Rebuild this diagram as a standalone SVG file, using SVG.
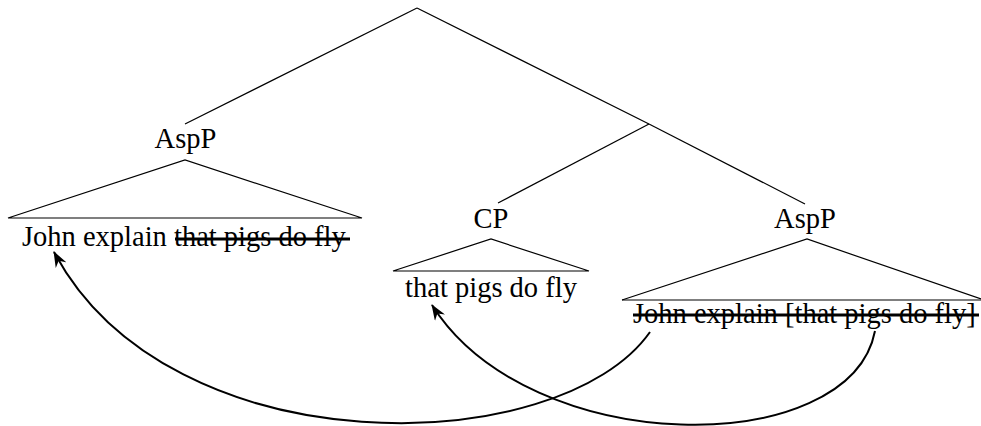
<svg xmlns="http://www.w3.org/2000/svg" width="981" height="426" viewBox="0 0 981 426">
<style>
text{font-family:'Liberation Serif','Times New Roman',Times,'DejaVu Serif',serif;font-size:28.5px;fill:#000}
.e{stroke:#000;stroke-width:1.2;fill:none}
.s{stroke:#000;stroke-width:3}
.m{stroke:#000;stroke-width:2;fill:none}
</style>
<defs>
<marker id="ah" viewBox="0 0 16 12" refX="15" refY="6" markerWidth="16" markerHeight="12" markerUnits="userSpaceOnUse" orient="auto">
<path d="M0,0 L16,6 L0,12 L5,6 Z" fill="#000"/>
</marker>
</defs>
<g id="edges">
<path class="e" d="M417,8 L185,124"/>
<path class="e" d="M417,8 L649,124"/>
<path class="e" d="M649,124 L498,203"/>
<path class="e" d="M649,124 L805,204"/>
</g>
<g id="aspp-left" font-family="Liberation Serif, serif">
<text x="185.5" y="148" text-anchor="middle">AspP</text>
<path class="e" d="M8,218 L185,160 L362,218 Z"/>
<text x="22" y="246">John explain that pigs do fly</text>
<line class="s" x1="175" y1="239" x2="350" y2="239"/>
</g>
<g id="cp" font-family="Liberation Serif, serif">
<text x="491" y="228" text-anchor="middle">CP</text>
<path class="e" d="M393,271 L491,239 L589,271 Z"/>
<text x="491" y="297" text-anchor="middle">that pigs do fly</text>
</g>
<g id="aspp-right" font-family="Liberation Serif, serif">
<text x="805" y="228" text-anchor="middle">AspP</text>
<path class="e" d="M622,300 L807,239 L981,299"/>
<line class="e" x1="622" y1="300" x2="981" y2="300"/>
<text x="633" y="323">John explain [that pigs do fly]</text>
<line class="s" x1="633" y1="315" x2="979" y2="315"/>
</g>
<g id="connectors">
<path class="m" d="M650,332 C560,460 170,470 54,252" marker-end="url(#ah)"/>
<path class="m" d="M875,331 C850,460 530,460 432,305" marker-end="url(#ah)"/>
</g>
</svg>
